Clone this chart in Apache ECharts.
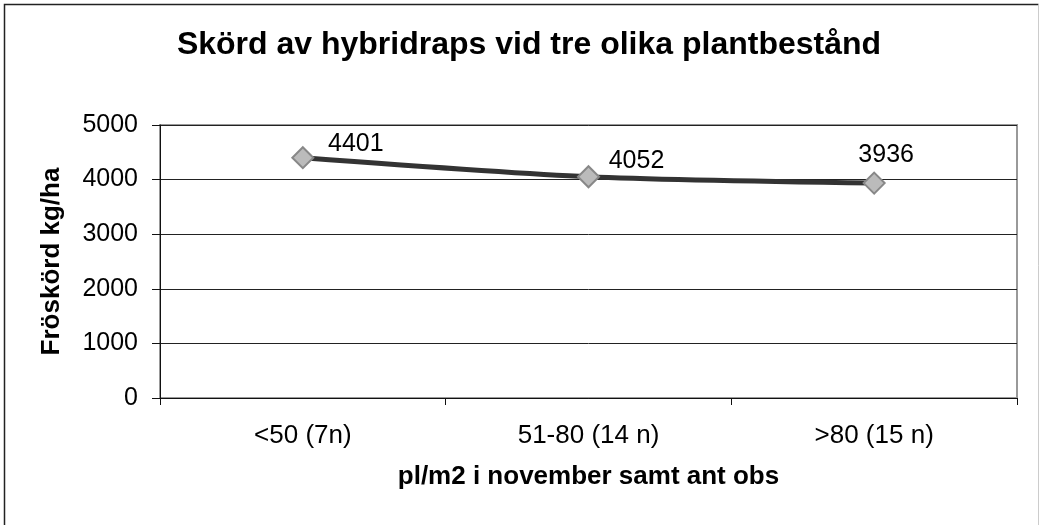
<!DOCTYPE html>
<html>
<head>
<meta charset="utf-8">
<script src="https://cdn.jsdelivr.net/npm/echarts@6/dist/echarts.min.js"></script>
<style>
html,body{margin:0;padding:0;background:#fff;}
#c{width:1040px;height:525px;}
</style>
</head>
<body>
<div id="c"></div>
<script>
const titleText = 'Skörd av hybridraps vid tre olika plantbestånd';
const categories = ['<50 (7n)', '51-80 (14 n)', '>80 (15 n)'];
const yieldValues = [4401, 4052, 3936];
const yTickMin = 0, yTickMax = 5000, yTickStep = 1000;
const xAxisTitle = 'pl/m2 i november samt ant obs';
const yAxisTitle = 'Fröskörd kg/ha';
// label offsets (styling only)
const labelOffsets = [[53, -14], [48, -16], [12, -28]];

const FONT = '"Liberation Sans", Arial, sans-serif';
const chart = echarts.init(document.getElementById('c'), null, {renderer: 'canvas'});
chart.setOption({
  animation: false,
  backgroundColor: '#fff',
  title: {
    text: titleText,
    left: 524, top: 24, textAlign: 'center',
    textStyle: {fontFamily: FONT, fontWeight: 'bold', fontSize: 32, color: '#000'}
  },
  graphic: [
    {type: 'polyline', shape: {points: [[4.5, 530], [4.5, 4.5], [1038.5, 4.5]]}, style: {stroke: '#222', lineWidth: 1.5, fill: null}, z: 100},
    {type: 'line', shape: {x1: 1038.5, y1: 4.5, x2: 1038.5, y2: 530}, style: {stroke: '#ccc', lineWidth: 1}, z: 100}
  ],
  grid: {left: 160, right: 23, top: 125, bottom: 127, show: true, borderColor: '#999', borderWidth: 2, backgroundColor: 'transparent'},
  xAxis: {
    type: 'category', data: categories, boundaryGap: true,
    axisLine: {show: true, lineStyle: {color: '#111', width: 1}},
    axisTick: {show: true, length: 7, lineStyle: {color: '#111'}},
    axisLabel: {fontFamily: FONT, fontSize: 26, color: '#000', margin: 25},
    name: xAxisTitle, nameLocation: 'middle', nameGap: 66,
    nameTextStyle: {fontFamily: FONT, fontWeight: 'bold', fontSize: 26, color: '#000'}
  },
  yAxis: {
    type: 'value', min: yTickMin, max: yTickMax, interval: yTickStep,
    axisLine: {show: true, lineStyle: {color: '#111', width: 1}},
    axisTick: {show: true, length: 8, lineStyle: {color: '#111'}},
    splitLine: {show: true, lineStyle: {color: '#222', width: 1}},
    axisLabel: {fontFamily: FONT, fontSize: 25, color: '#000', margin: 22, formatter: v => String(v)},
    name: yAxisTitle, nameLocation: 'middle', nameGap: 95, nameRotate: 90,
    nameTextStyle: {fontFamily: FONT, fontWeight: 'bold', fontSize: 26, color: '#000'}
  },
  series: [{
    type: 'line',
    data: yieldValues.map((v, i) => ({value: v, label: {offset: labelOffsets[i]}})),
    smooth: 0.25,
    lineStyle: {color: '#333', width: 5},
    symbol: 'diamond', symbolSize: 21,
    itemStyle: {color: '#bbb', borderColor: '#888', borderWidth: 2},
    label: {show: true, position: 'inside', fontFamily: FONT, fontSize: 25, color: '#000'},
    z: 5
  }]
});
</script>
</body>
</html>
